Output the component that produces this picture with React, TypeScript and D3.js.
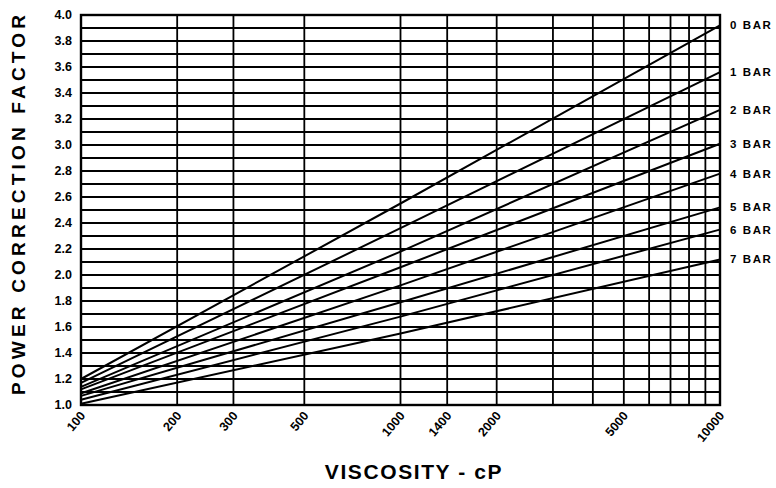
import * as d3 from "d3";

// viscosity (cP) sample points, read at 100 / 1000 / 10000
const viscosity = [100, 1000, 10000];

const pressures = ["0 BAR", "1 BAR", "2 BAR", "3 BAR", "4 BAR", "5 BAR", "6 BAR", "7 BAR"];
const bar0 = [1.2, 2.55, 3.92];
const bar1 = [1.17, 2.36, 3.56];
const bar2 = [1.14, 2.18, 3.27];
const bar3 = [1.12, 2.06, 3.01];
const bar4 = [1.09, 1.92, 2.78];
const bar5 = [1.07, 1.79, 2.52];
const bar6 = [1.04, 1.68, 2.35];
const bar7 = [1.01, 1.55, 2.12];
const series = [bar0, bar1, bar2, bar3, bar4, bar5, bar6, bar7];

const xGrid = [100, 200, 300, 500, 1000, 1400, 2000, 3000, 4000, 5000, 6000, 7000, 8000, 9000, 10000];
const xTickLabels = [100, 200, 300, 500, 1000, 1400, 2000, 5000, 10000];
const yTickLabels = [1.0, 1.2, 1.4, 1.6, 1.8, 2.0, 2.2, 2.4, 2.6, 2.8, 3.0, 3.2, 3.4, 3.6, 3.8, 4.0];
const yGrid = d3.range(10, 41).map((d) => d / 10);

const width = 776;
const height = 488;
const marginLeft = 81;
const marginRight = 56;
const marginTop = 15;
const marginBottom = 83;

const font = "'Liberation Sans', Arial, sans-serif";

export default function App() {
  const x = d3
    .scaleLog()
    .domain([100, 10000])
    .range([marginLeft, width - marginRight]);
  const y = d3
    .scaleLinear()
    .domain([1, 4])
    .range([height - marginBottom, marginTop]);

  const line = d3
    .line<number>()
    .x((d, i) => x(viscosity[i]))
    .y((d) => y(d))
    .curve(d3.curveMonotoneX);

  const [x0, x1] = x.range();
  const [y0, y1] = y.range();

  return (
    <svg
      width={width}
      height={height}
      style={{ position: "absolute", left: 0, top: 0, background: "#fff" }}
      fontFamily={font}
      fontWeight="bold"
    >
      <g stroke="#000" strokeWidth={1.8}>
        {yGrid.map((v) => (
          <line key={"h" + v} x1={x0} x2={x1} y1={y(v)} y2={y(v)} />
        ))}
        {xGrid.map((v) => (
          <line key={"v" + v} x1={x(v)} x2={x(v)} y1={y0} y2={y1} />
        ))}
      </g>
      <rect x={x0} y={y1} width={x1 - x0} height={y0 - y1} fill="none" stroke="#000" strokeWidth={2.4} />

      <g fill="none" stroke="#000" strokeWidth={2}>
        {series.map((s, i) => (
          <path key={pressures[i]} d={line(s) ?? ""} />
        ))}
      </g>

      <g fontSize={11.5} letterSpacing={1.6}>
        {series.map((s, i) => (
          <text key={pressures[i]} x={x1 + 10} y={y(s[s.length - 1])} dominantBaseline="central">
            {pressures[i]}
          </text>
        ))}
      </g>

      <g fontSize={12.5} textAnchor="end">
        {yTickLabels.map((v) => (
          <text key={v} x={marginLeft - 9} y={y(v)} dominantBaseline="central">
            {v.toFixed(1)}
          </text>
        ))}
      </g>

      <g fontSize={12.5}>
        {xTickLabels.map((v) => (
          <text
            key={v}
            textAnchor="end"
            transform={`translate(${x(v) + 5},${y0 + 11}) rotate(-50)`}
          >
            {v}
          </text>
        ))}
      </g>

      <text x={414} y={479} textAnchor="middle" fontSize={21} letterSpacing={1.6}>
        VISCOSITY - cP
      </text>
      <text
        transform={`translate(25,205) rotate(-90)`}
        textAnchor="middle"
        fontSize={19}
        textLength={380}
        lengthAdjust="spacing"
      >
        POWER CORRECTION FACTOR
      </text>
    </svg>
  );
}
